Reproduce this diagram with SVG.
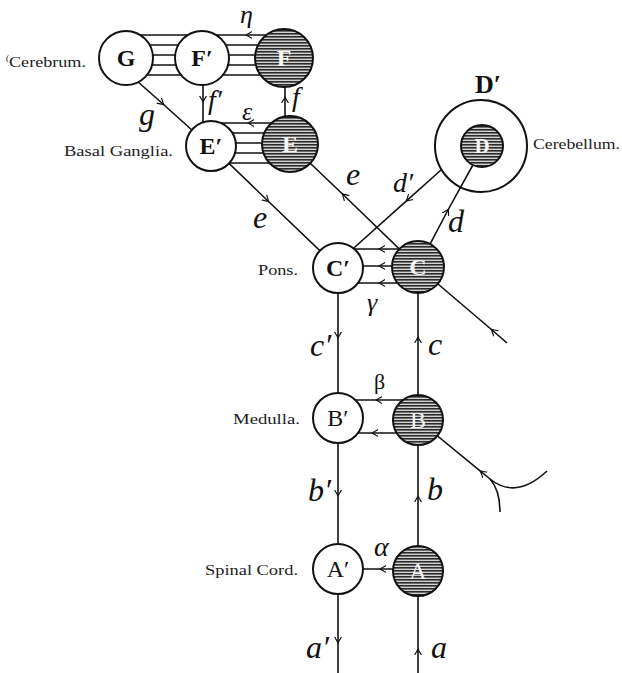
<svg xmlns="http://www.w3.org/2000/svg" width="622" height="673" viewBox="0 0 622 673">
  <defs>
    <!-- horizontal line shading for the sensory (dark) centres -->
    <pattern id="hatch" width="8" height="3" patternUnits="userSpaceOnUse">
      <rect width="8" height="3" fill="#d2d2d2"/>
      <rect width="8" height="1.6" fill="#2b2b2b"/>
    </pattern>
    <!-- open chevron arrowhead placed mid-line -->
    <marker id="ah" viewBox="0 0 10 10" refX="6" refY="5" markerWidth="9" markerHeight="9" markerUnits="userSpaceOnUse" orient="auto">
      <path d="M0,1 L7,5 L0,9" fill="none" stroke="#111" stroke-width="1.3"/>
    </marker>
    <style>
      .ln { fill: none; stroke: #111; stroke-width: 1.6; }
      .arr { marker-mid: url(#ah); }
      .node circle { fill: #fff; stroke: #111; stroke-width: 2; }
      .dark circle { fill: url(#hatch); }
      .ring { fill: none !important; }
      .nl { font-family: "Liberation Serif", serif; font-weight: bold; font-size: 24px; text-anchor: middle; fill: #111; }
      .dark .nl { fill: #f6f6f6; }
      .reg { font-family: "Liberation Serif", serif; font-size: 15px; fill: #222; }
      .it { font-family: "Liberation Serif", serif; font-style: italic; font-size: 32px; fill: #111; }
      .gr { font-family: "Liberation Serif", serif; font-style: italic; font-size: 26px; fill: #111; }
    </style>
  </defs>

  <rect width="622" height="673" fill="#fff"/>

  <g id="connectors">
    <!-- cerebrum bundle: F to F' and G -->
    <path class="ln arr" d="M266,35 L247,35 L140,35"/>
    <path class="ln" d="M126,45 H284 M126,55 H284 M126,65 H284 M126,75 H284"/>
    <!-- basal ganglia bundle: E to E' -->
    <path class="ln arr" d="M290,123 L249,123 L211,123"/>
    <path class="ln" d="M211,133 H290 M211,143 H290 M211,153 H290 M211,163 H290"/>
    <!-- f' and f -->
    <path class="ln arr" d="M203,85 L203,101 L203,124"/>
    <path class="ln arr" d="M285,117 L285,98 L285,86"/>
    <!-- g -->
    <path class="ln arr" d="M137,81 L163,104 L193,131"/>
    <!-- e : E' to C' -->
    <path class="ln arr" d="M211,146 L268,201 L338,268"/>
    <!-- e : C to E -->
    <path class="ln arr" d="M418,267 L343,194.5 L290,144"/>
    <!-- d' : D' to C' -->
    <path class="ln arr" d="M441,170 L407,200.4 L346,255"/>
    <!-- d : C to D -->
    <path class="ln arr" d="M418,267 L448,210 L474,163"/>
    <!-- afferent into C -->
    <path class="ln arr" d="M507,343 L492,330 L418,267"/>
    <!-- gamma : C to C' -->
    <path class="ln arr" d="M418,249 L380,249 L338,249"/>
    <path class="ln arr" d="M418,266 L380,266 L338,266"/>
    <path class="ln arr" d="M418,283 L380,283 L338,283"/>
    <!-- efferent column -->
    <path class="ln arr" d="M338,268 L338,337 L338,418"/>
    <path class="ln arr" d="M338,418 L338,495 L338,569"/>
    <path class="ln arr" d="M338,569 L338,642 L338,673"/>
    <!-- afferent column -->
    <path class="ln arr" d="M418,673 L418,650 L418,571"/>
    <path class="ln arr" d="M418,571 L418,497 L418,420"/>
    <path class="ln arr" d="M418,420 L418,338 L418,267"/>
    <!-- beta : B to B' -->
    <path class="ln arr" d="M418,400 L377,400 L338,400"/>
    <path class="ln arr" d="M418,433 L373,433 L338,433"/>
    <!-- alpha : A to A' -->
    <path class="ln arr" d="M418,569 L381,569 L338,569"/>
    <!-- afferent into B with forked ending -->
    <path class="ln arr" d="M490,479 L481,471.6 L418,420"/>
    <path class="ln" d="M490,479 Q500,490 500,512"/>
    <path class="ln" d="M490,479 Q516,500 547,471"/>
  </g>

  <g id="node-G" class="node"><circle cx="126" cy="58" r="27"/><text class="nl" x="126" y="66">G</text></g>
  <g id="node-F-prime" class="node"><circle cx="202" cy="58" r="27"/><text class="nl" x="202" y="66">F′</text></g>
  <g id="node-F" class="node dark"><circle cx="284" cy="58" r="29"/><text class="nl" x="284" y="66">F</text></g>
  <g id="node-E-prime" class="node"><circle cx="211" cy="146" r="25"/><text class="nl" x="211" y="154">E′</text></g>
  <g id="node-E" class="node dark"><circle cx="290" cy="144" r="28"/><text class="nl" x="290" y="152">E</text></g>
  <g id="node-D-prime" class="node"><circle class="ring" cx="481" cy="146" r="46"/><text class="nl" x="488" y="93" style="font-size:26px">D′</text></g>
  <g id="node-D" class="node dark"><circle cx="482" cy="146" r="21"/><text class="nl" x="482" y="153" style="font-size:21px">D</text></g>
  <g id="node-C-prime" class="node"><circle cx="338" cy="268" r="25"/><text class="nl" x="338" y="276">C′</text></g>
  <g id="node-C" class="node dark"><circle cx="418" cy="267" r="26"/><text class="nl" x="418" y="275">C</text></g>
  <g id="node-B-prime" class="node"><circle cx="338" cy="418" r="25"/><text class="nl" x="338" y="426" style="font-weight:normal">B′</text></g>
  <g id="node-B" class="node dark"><circle cx="418" cy="420" r="25"/><text class="nl" x="418" y="428" style="font-weight:normal">B</text></g>
  <g id="node-A-prime" class="node"><circle cx="338" cy="569" r="25"/><text class="nl" x="338" y="577" style="font-weight:normal">A′</text></g>
  <g id="node-A" class="node dark"><circle cx="418" cy="571" r="25"/><text class="nl" x="418" y="579" style="font-weight:normal">A</text></g>

  <g id="regions">
    <text class="reg" x="6" y="67"><tspan font-size="9" dy="-6">(</tspan><tspan dy="6" textLength="77" lengthAdjust="spacingAndGlyphs">Cerebrum.</tspan></text>
    <text class="reg" x="64" y="156" textLength="109" lengthAdjust="spacingAndGlyphs">Basal Ganglia.</text>
    <text class="reg" x="533" y="149" textLength="87" lengthAdjust="spacingAndGlyphs">Cerebellum.</text>
    <text class="reg" x="258" y="275" textLength="40" lengthAdjust="spacingAndGlyphs">Pons.</text>
    <text class="reg" x="233" y="424" textLength="67" lengthAdjust="spacingAndGlyphs">Medulla.</text>
    <text class="reg" x="205" y="575" textLength="93" lengthAdjust="spacingAndGlyphs">Spinal Cord.</text>
  </g>

  <g id="path-labels">
    <text class="gr" x="240" y="23">η</text>
    <text class="gr" x="242" y="120">ε</text>
    <text class="it" x="208" y="109" style="font-size:28px">f′</text>
    <text class="it" x="292" y="106" style="font-size:28px">f</text>
    <text class="it" x="139" y="125">g</text>
    <text class="it" x="253" y="228">e</text>
    <text class="it" x="346" y="185">e</text>
    <text class="it" x="393" y="192" style="font-size:28px">d′</text>
    <text class="it" x="448" y="232">d</text>
    <text class="gr" x="367" y="311">γ</text>
    <text class="it" x="310" y="356">c′</text>
    <text class="it" x="428" y="355">c</text>
    <text class="gr" x="374" y="389" style="font-style:normal;font-size:22px">β</text>
    <text class="it" x="308" y="501">b′</text>
    <text class="it" x="427" y="500">b</text>
    <text class="gr" x="374" y="556" style="font-size:28px">α</text>
    <text class="it" x="306" y="658">a′</text>
    <text class="it" x="431" y="658">a</text>
  </g>
</svg>
